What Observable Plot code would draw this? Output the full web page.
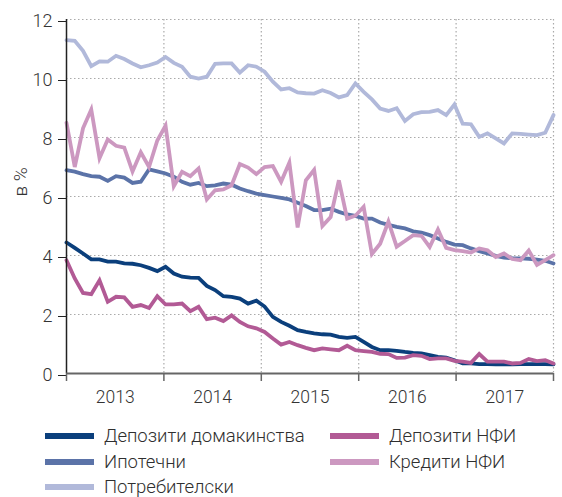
<!DOCTYPE html>
<html>
<head>
<meta charset="utf-8">
<script src="https://cdn.jsdelivr.net/npm/d3@7"></script>
<script src="https://cdn.jsdelivr.net/npm/@observablehq/plot@0.6"></script>
<style>
  html, body { margin: 0; padding: 0; background: #fff; }
  #wrap { position: relative; width: 562px; height: 497px; font-family: Roboto, "Liberation Sans", sans-serif; color: #333; }
  #chart svg text { font-weight: 300; }
  #legend { position: absolute; left: 0; top: 410px; width: 562px; height: 87px; }
  .item { position: absolute; height: 18px; line-height: 18px; display: flex; align-items: center; font-size: 18.5px; font-weight: 300; white-space: nowrap; color: #2f2f2f; }
  .sw { width: 49px; height: 6px; margin-right: 10px; flex: none; }
</style>
</head>
<body>
<div id="wrap">
  <div id="chart"></div>
  <div id="legend"></div>
</div>
<script>
// ---- data (monthly, Jan 2013 – Dec 2017), % ----
const years = ["2013", "2014", "2015", "2016", "2017"];
const seriesNames = ["Депозити домакинства", "Депозити НФИ", "Ипотечни", "Кредити НФИ", "Потребителски"];

const depDomakinstva = [4.44,4.26,4.07,3.87,3.87,3.79,3.79,3.73,3.72,3.67,
  3.58,3.47,3.62,3.39,3.28,3.25,3.24,2.97,2.83,2.62,
  2.6,2.54,2.37,2.47,2.27,1.92,1.75,1.62,1.47,1.41,
  1.36,1.33,1.32,1.24,1.21,1.24,1.07,0.9,0.79,0.79,
  0.77,0.73,0.7,0.68,0.62,0.56,0.54,0.45,0.34,0.34,
  0.32,0.32,0.31,0.31,0.31,0.32,0.32,0.32,0.32,0.31];

const depNFI = [3.84,3.22,2.73,2.69,3.16,2.43,2.6,2.58,2.26,2.32,
  2.22,2.62,2.34,2.34,2.37,2.11,2.26,1.84,1.89,1.78,
  1.97,1.75,1.6,1.53,1.41,1.19,0.98,1.07,0.96,0.87,
  0.79,0.85,0.82,0.79,0.94,0.79,0.76,0.73,0.67,0.66,
  0.53,0.54,0.62,0.6,0.49,0.51,0.51,0.43,0.4,0.36,
  0.66,0.4,0.4,0.4,0.34,0.36,0.49,0.42,0.45,0.34];

const ipotechni = [6.89,6.84,6.76,6.69,6.67,6.53,6.69,6.64,6.46,6.5,
  6.92,6.85,6.78,6.67,6.5,6.4,6.46,6.35,6.38,6.44,
  6.4,6.27,6.18,6.1,6.05,6.0,5.95,5.9,5.79,5.68,
  5.54,5.54,5.59,5.48,5.39,5.34,5.25,5.25,5.12,5.04,
  4.97,4.92,4.82,4.78,4.69,4.58,4.46,4.37,4.35,4.24,
  4.15,4.07,3.99,3.93,3.91,3.9,3.89,3.86,3.82,3.73];

const krediti = [8.5,7.0,8.31,8.95,7.3,7.93,7.72,7.66,6.85,7.5,
  7.0,7.9,8.4,6.35,6.84,6.69,6.95,5.9,6.21,6.24,
  6.38,7.1,6.98,6.76,7.0,7.03,6.5,7.15,4.95,6.55,
  6.9,5.0,5.3,6.55,5.25,5.35,5.65,4.05,4.4,5.15,
  4.3,4.49,4.69,4.67,4.29,4.88,4.26,4.18,4.15,4.1,
  4.24,4.18,3.95,4.07,3.88,3.84,4.17,3.68,3.84,4.01];

const potrebitelski = [11.3,11.28,10.94,10.42,10.58,10.57,10.77,10.66,10.51,10.38,
  10.45,10.54,10.73,10.53,10.4,10.06,10.0,10.06,10.5,10.51,
  10.51,10.2,10.45,10.4,10.23,9.89,9.63,9.67,9.53,9.5,
  9.49,9.6,9.51,9.36,9.44,9.83,9.55,9.29,8.98,8.9,
  8.99,8.56,8.79,8.86,8.87,8.93,8.76,9.12,8.47,8.45,
  8.02,8.14,7.97,7.8,8.14,8.12,8.1,8.08,8.16,8.76];

const yTicks = [0, 2, 4, 6, 8, 10, 12];

// ---- build table ----
const colors = {
  "Депозити домакинства": "#0b3f7c",
  "Депозити НФИ": "#b25a95",
  "Ипотечни": "#5b73a8",
  "Кредити НФИ": "#cc98c0",
  "Потребителски": "#b1b9da"
};
const valuesBySeries = {
  "Потребителски": potrebitelski,
  "Ипотечни": ipotechni,
  "Депозити домакинства": depDomakinstva,
  "Кредити НФИ": krediti,
  "Депозити НФИ": depNFI
};
const drawOrder = ["Потребителски", "Ипотечни", "Депозити домакинства", "Кредити НФИ", "Депозити НФИ"];
const rows = [];
for (const s of drawOrder) valuesBySeries[s].forEach((v, i) => rows.push({s, i, v}));

const n = potrebitelski.length - 1;          // 59 intervals
const bounds = d3.range(0, 6).map(k => k * n / 5);
const mids = d3.range(0, 5).map(k => (k + 0.5) * n / 5);

const chart = Plot.plot({
  width: 562,
  height: 410,
  marginLeft: 66,
  marginRight: 9,
  marginTop: 19,
  marginBottom: 37,
  x: {domain: [0, n]},
  y: {domain: [0, 12]},
  style: {fontFamily: 'Roboto, "Liberation Sans", sans-serif', fontSize: "17px", color: "#333", background: "#fff", overflow: "visible"},
  marks: [
    Plot.gridY(yTicks.slice(1), {stroke: "#aaa", strokeOpacity: 1, strokeWidth: 1.2, strokeDasharray: "1.5,2.5"}),
    Plot.gridX(bounds.slice(1), {stroke: "#aaa", strokeOpacity: 1, strokeWidth: 1.2, strokeDasharray: "1.5,2.5"}),
    Plot.line(rows, {x: "i", y: "v", z: "s", stroke: d => colors[d.s], strokeWidth: 3.8, strokeLinejoin: "miter", strokeMiterlimit: 4}),
    Plot.axisY({ticks: yTicks, tickSize: 8, tickPadding: 6, label: null, stroke: "#222", fontSize: 18, dy: 2}),
    Plot.ruleX([0], {stroke: "#222", strokeWidth: 1.5}),
    Plot.ruleY([0], {stroke: "#666", strokeWidth: 2}),
    Plot.axisX({ticks: bounds, tickSize: 8, tickFormat: () => "", stroke: "#666", strokeWidth: 1.5, label: null}),
    Plot.axisX({ticks: mids, tickSize: 0, tickPadding: 17, tickFormat: (d, k) => years[k], label: null, fontSize: 17.5}),
    Plot.text(["в %"], {frameAnchor: "left", dx: -46, rotate: -90, fontSize: 19, fill: "#333"})
  ]
});
document.getElementById("chart").appendChild(chart);

// ---- legend ----
const legendPos = [
  {s: "Депозити домакинства", x: 45, y: 26},
  {s: "Депозити НФИ", x: 330, y: 26},
  {s: "Ипотечни", x: 45, y: 52},
  {s: "Кредити НФИ", x: 330, y: 52},
  {s: "Потребителски", x: 45, y: 77}
];
const leg = document.getElementById("legend");
for (const p of legendPos) {
  const it = document.createElement("div");
  it.className = "item";
  it.style.left = p.x + "px";
  it.style.top = (p.y - 9) + "px";
  const sw = document.createElement("span");
  sw.className = "sw";
  sw.style.background = colors[p.s];
  const tx = document.createElement("span");
  tx.textContent = p.s;
  it.appendChild(sw);
  it.appendChild(tx);
  leg.appendChild(it);
}
</script>
</body>
</html>
